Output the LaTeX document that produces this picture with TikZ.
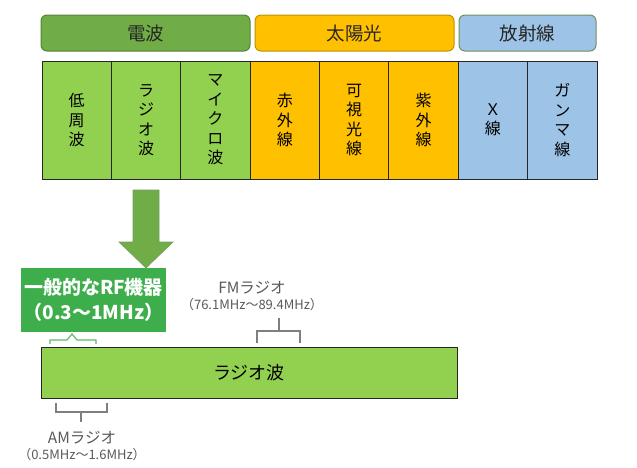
\documentclass[tikz,border=0pt]{standalone}
\usepackage{fontspec}
\setmainfont{Noto Sans CJK JP}
\usetikzlibrary{positioning}

\definecolor{hdrgreen}{HTML}{70AD47}
\definecolor{hdrgreenline}{HTML}{548235}
\definecolor{hdrorange}{HTML}{FFC000}
\definecolor{hdrorangeline}{HTML}{BF9000}
\definecolor{hdrblue}{HTML}{9DC3E6}
\definecolor{hdrblueline}{HTML}{6F8F62}
\definecolor{colgreen}{HTML}{92D050}
\definecolor{colorange}{HTML}{FFC000}
\definecolor{colblue}{HTML}{9DC3E6}
\definecolor{rfgreen}{HTML}{3DAE4B}
\definecolor{brkgreen}{HTML}{5DBB63}
\definecolor{brkgray}{HTML}{7F7F7F}
\definecolor{lblgray}{HTML}{595959}

\begin{document}
\begin{tikzpicture}[x=1pt, y=-1pt,
  hdr/.style={rounded corners=6pt, line width=1pt, minimum height=36, inner sep=0pt,
    text=black!85, font=\fontsize{18.5}{20}\selectfont},
  colbox/.style={draw=black!85, line width=1pt, minimum width=69.375, minimum height=118,
    inner sep=0pt, align=center, font=\fontsize{16}{19.5}\selectfont},
  rfbox/.style={fill=rfgreen, minimum width=145, minimum height=64, inner sep=0pt,
    align=center, text=white, font=\fontsize{19}{25}\selectfont\bfseries},
  bar/.style={fill=colgreen, draw=black!85, line width=1pt, minimum width=416,
    minimum height=51, font=\fontsize{18}{20}\selectfont},
  lbl/.style={text=lblgray, inner sep=0pt, font=\fontsize{15.5}{18}\selectfont},
  sublbl/.style={text=lblgray, inner sep=0pt, font=\fontsize{13}{15}\selectfont},
  brk/.style={draw=brkgray, line width=1.2pt},
  bigarrow/.style={fill=hdrgreen, draw=hdrgreenline!80, line width=0.6pt}]

  \useasboundingbox (0,0) rectangle (637,467);

  % headers
  \node[hdr, fill=hdrgreen, draw=hdrgreenline, minimum width=209] (denpa) at (145.5,33) {電波};
  \node[hdr, fill=hdrorange, draw=hdrorangeline, minimum width=199] (taiyo) at (354.5,33) {太陽光};
  \node[hdr, fill=hdrblue, draw=hdrblueline, minimum width=137] (hosha) at (527.5,33) {放射線};

  % spectrum columns
  \foreach \txt/\clr [count=\i] in {低\\周\\波/colgreen, ラ\\ジ\\オ\\波/colgreen,
      マ\\イ\\ク\\ロ\\波/colgreen, 赤\\外\\線/colorange, 可\\視\\光\\線/colorange,
      紫\\外\\線/colorange, Ｘ\\線/colblue, ガ\\ン\\マ\\線/colblue}
    \node[colbox, fill=\clr] (col\i) at ({42+69.375*(\i-0.5)},120) {\txt};

  % down arrow
  \draw[bigarrow] (133,190) -- (159,190) -- (159,242) -- (173,242) -- (146,268)
    -- (119,242) -- (133,242) -- cycle;

  \node[rfbox] (rf) at (93.5,300) {一般的なRF機器\\（0.3～1MHz）};

  \node[bar] (radiobar) at (249,372.5) {ラジオ波};

  % bracket under the RF box
  \draw[draw=brkgreen, line width=1.2pt] (50,344) -- (50,340) -- (67,340) -- (72,334)
    -- (77,340) -- (96,340) -- (96,344);

  % FM
  \node[lbl] (fm) at (252,288) {FMラジオ};
  \node[sublbl, below=3pt of fm] (fmsub) {（76.1MHz～89.4MHz）};
  \draw[brk] (257,343) -- (257,331) -- (300,331) -- (300,343);
  \draw[brk] (279,331) -- (279,318);

  % AM
  \draw[brk] (56,403) -- (56,412) -- (107,412) -- (107,403);
  \draw[brk] (81,412) -- (81,422);
  \node[lbl] (am) at (82,438) {AMラジオ};
  \node[sublbl, below=3pt of am] (amsub) {（0.5MHz～1.6MHz）};
\end{tikzpicture}
\end{document}
